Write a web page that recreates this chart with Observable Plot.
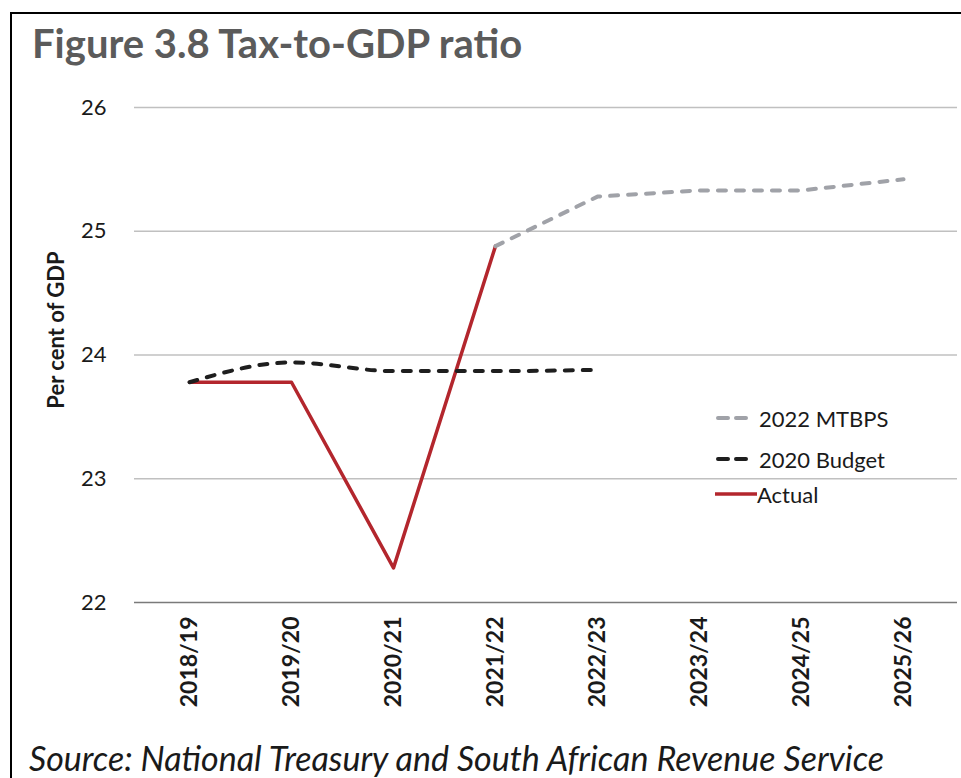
<!DOCTYPE html>
<html>
<head>
<meta charset="utf-8">
<script src="https://cdn.jsdelivr.net/npm/d3@7"></script>
<script src="https://cdn.jsdelivr.net/npm/@observablehq/plot@0.6"></script>
<style>
  html, body { margin: 0; padding: 0; background: #fff; }
  body { width: 961px; height: 778px; position: relative; overflow: hidden; font-family: Lato, "Open Sans", sans-serif; }
  #frame { position: absolute; left: 10px; top: 12px; width: 980px; height: 800px;
           border-top: 2.5px solid #000; border-left: 2.5px solid #000; }
  #title { position: absolute; left: 32px; top: 23px; font-size: 40px; line-height: 1; font-weight: 700; color: #5b5b5b; white-space: nowrap; }
  #chart { position: absolute; left: 0; top: 90px; }
  #ylabel { position: absolute; left: 56px; top: 330px; transform: translate(-50%, -50%) rotate(-90deg);
            font-size: 22px; font-weight: 700; color: #1a1a1a; white-space: nowrap; line-height: 1; }
  #legend { position: absolute; left: 715px; top: 403px; font-size: 22px; color: #1a1a1a; }
  #legend .item { position: absolute; left: 0; height: 30px; white-space: nowrap; display: flex; align-items: center; }
  #legend svg { display: block; }
  #source { position: absolute; left: 29px; top: 741px; font-size: 34px; line-height: 1; font-style: italic; color: #1a1a1a; white-space: nowrap; }
</style>
</head>
<body>
<div id="frame"></div>
<div id="title">Figure 3.8 Tax-to-GDP ratio</div>
<div id="chart"></div>
<div id="ylabel">Per cent of GDP</div>
<div id="legend"></div>
<div id="source">Source: National Treasury and South African Revenue Service</div>
<script>
// Fiscal years on the horizontal axis
const years = ["2018/19", "2019/20", "2020/21", "2021/22", "2022/23", "2023/24", "2024/25", "2025/26"];

// Tax-to-GDP ratio, per cent (null where a series has no value)
const actual     = [23.78, 23.78, 22.28, 24.88, null,  null,  null,  null];
const budget2020 = [23.78, 23.94, 23.87, 23.87, 23.88, null,  null,  null];
const mtbps2022  = [null,  null,  null,  24.88, 25.28, 25.33, 25.33, 25.42];

// Vertical axis ticks
const yTicks = [22, 23, 24, 25, 26];

// Series names and styles, in legend order
const seriesNames = ["2022 MTBPS", "2020 Budget", "Actual"];
const seriesColors = ["#a0a2a8", "#1e1e1e", "#b3262d"];

const rows = (values) => years.map((year, i) => ({year, value: values[i]})).filter(d => d.value != null);

const dash = {strokeWidth: 4, strokeDasharray: "8,10", strokeLinecap: "round"};

const chart = Plot.plot({
  width: 961,
  height: 640,
  marginLeft: 134,
  marginRight: 4,
  marginTop: 17,
  marginBottom: 128,
  style: {fontFamily: "Lato, 'Open Sans', sans-serif", color: "#1a1a1a", background: "transparent"},
  x: {type: "point", domain: years, padding: 0.5},
  y: {domain: [22, 26]},
  marks: [
    Plot.ruleY(yTicks.filter(t => t > 22), {stroke: "#c0c0c0", strokeWidth: 1.5}),
    Plot.ruleY([22], {stroke: "#7a7a7a", strokeWidth: 1.5}),
    Plot.axisY({ticks: yTicks, tickFormat: "d", tickSize: 0, tickPadding: 28, fontSize: 22, label: null}),
    Plot.axisX({tickSize: 0, tickPadding: 14, tickRotate: -90, fontSize: 23, fontWeight: "bold", label: null}),
    Plot.line(rows(actual), {x: "year", y: "value", stroke: seriesColors[2], strokeWidth: 3.5}),
    Plot.line(rows(budget2020), {x: "year", y: "value", stroke: seriesColors[1], curve: "monotone-x", ...dash}),
    Plot.line(rows(mtbps2022), {x: "year", y: "value", stroke: seriesColors[0], ...dash})
  ]
});
document.getElementById("chart").append(chart);

// Legend inside the plot area
const legend = d3.select("#legend");
const legendTops = [0, 41, 76];
seriesNames.forEach((name, i) => {
  const item = legend.append("div").attr("class", "item").style("top", legendTops[i] + "px");
  const sw = item.append("svg").attr("width", i === 2 ? 42 : 44).attr("height", 10);
  const line = sw.append("line").attr("x1", i === 2 ? 0 : 3).attr("x2", i === 2 ? 42 : 33)
    .attr("y1", 5).attr("y2", 5).attr("stroke", seriesColors[i]);
  if (i === 2) line.attr("stroke-width", 3.5);
  else line.attr("stroke-width", 4).attr("stroke-dasharray", "10,8").attr("stroke-linecap", "round");
  item.append("span").text(name);
});
</script>
</body>
</html>
